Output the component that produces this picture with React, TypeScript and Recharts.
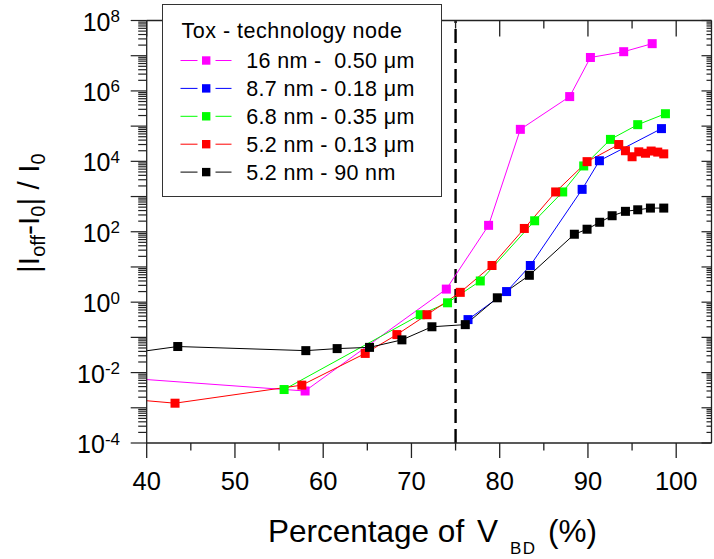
import React from 'react';
import { LineChart, Line, XAxis, YAxis, ReferenceLine, Legend, Customized } from 'recharts';

const FONT = '"Liberation Sans", Arial, Helvetica, sans-serif';
const AX = '#222';

// Percentage of V_BD (%) vs |Ioff - I0| / I0
const mag16 = [
  { x: 35, y: 0.0078 },
  { x: 57.95, y: 0.003 },
  { x: 73.95, y: 2.35 },
  { x: 78.74, y: 152 },
  { x: 82.34, y: 81000 },
  { x: 87.93, y: 690000 },
  { x: 90.28, y: 8.9e6 },
  { x: 94.05, y: 1.3e7 },
  { x: 97.28, y: 2.2e7 },
];
const blue87 = [
  { x: 76.41, y: 0.32 },
  { x: 80.78, y: 2.0 },
  { x: 83.47, y: 11 },
  { x: 89.34, y: 1600 },
  { x: 91.3, y: 10400 },
  { x: 98.33, y: 85000 },
];
const green68 = [
  { x: 55.57, y: 0.0033 },
  { x: 71.0, y: 0.44 },
  { x: 74.09, y: 0.96 },
  { x: 77.8, y: 4.0 },
  { x: 83.96, y: 205 },
  { x: 87.14, y: 1350 },
  { x: 89.52, y: 7400 },
  { x: 92.55, y: 42000 },
  { x: 95.64, y: 110000 },
  { x: 98.78, y: 225000 },
];
const red52 = [
  { x: 35, y: 0.00204 },
  { x: 43.21, y: 0.00135 },
  { x: 57.58, y: 0.0044 },
  { x: 64.76, y: 0.035 },
  { x: 68.35, y: 0.12 },
  { x: 71.76, y: 0.44 },
  { x: 75.53, y: 1.9 },
  { x: 79.13, y: 11 },
  { x: 82.79, y: 124 },
  { x: 86.34, y: 1350 },
  { x: 89.9, y: 9800 },
  { x: 93.49, y: 30000 },
  { x: 94.25, y: 20000 },
  { x: 95.0, y: 13500 },
  { x: 95.76, y: 18600 },
  { x: 96.52, y: 17000 },
  { x: 97.16, y: 19600 },
  { x: 97.91, y: 18300 },
  { x: 98.59, y: 16300 },
];
const black52 = [
  { x: 35, y: 0.028 },
  { x: 43.52, y: 0.055 },
  { x: 58.03, y: 0.042 },
  { x: 61.58, y: 0.048 },
  { x: 65.25, y: 0.052 },
  { x: 68.92, y: 0.085 },
  { x: 72.32, y: 0.2 },
  { x: 76.1, y: 0.23 },
  { x: 79.73, y: 1.33 },
  { x: 83.36, y: 5.8 },
  { x: 88.46, y: 85 },
  { x: 89.9, y: 118 },
  { x: 91.33, y: 186 },
  { x: 92.74, y: 285 },
  { x: 94.25, y: 380 },
  { x: 95.64, y: 420 },
  { x: 97.08, y: 470 },
  { x: 98.59, y: 470 },
];

const seriesNames = ['16 nm -  0.50 \u03bcm', '8.7 nm - 0.18 \u03bcm', '6.8 nm - 0.35 \u03bcm', '5.2 nm - 0.13 \u03bcm', '5.2 nm - 90 nm'];
const seriesColors = ['#FF00FF', '#0000FF', '#00FF00', '#FF0000', '#000000'];
const seriesData = [mag16, blue87, green68, red52, black52];
const legendTitle = 'Tox - technology node';

const xDomain = [40, 104];
const xTicks = [40, 45, 50, 55, 60, 65, 70, 75, 80, 85, 90, 95, 100];
const yDomain = [1e-4, 1e8];
const yTicks: number[] = [];
for (let e = -4; e <= 8; e++) {
  for (let k = 1; k <= 9; k++) {
    if (e === 8 && k > 1) break;
    yTicks.push(Number((k * Math.pow(10, e)).toPrecision(6)));
  }
}

function decade(v: number) {
  const e = Math.log10(v);
  const r = Math.round(e);
  return { major: Math.abs(e - r) < 1e-6, exp: r };
}

function BottomTick(props: any) {
  const { x, y, payload } = props;
  const v = payload.value;
  const major = v % 10 === 0;
  return (
    <g>
      <line x1={x} x2={x} y1={y} y2={y + (major ? 15 : 7.5)} stroke={AX} strokeWidth={1.3} />
      {major && (
        <text x={x} y={y + 47} textAnchor="middle" fontSize={25.5} fill="#000" fontFamily={FONT}>
          {v}
        </text>
      )}
    </g>
  );
}
function TopTick(props: any) {
  const { x, y, payload } = props;
  const major = payload.value % 10 === 0;
  return <line x1={x} x2={x} y1={y} y2={y + (major ? 16 : 8)} stroke={AX} strokeWidth={1.3} />;
}
function LeftTick(props: any) {
  const { x, y, payload } = props;
  const { major, exp } = decade(payload.value);
  return (
    <g>
      <line x1={x - (major ? 16 : 8.5)} x2={x} y1={y} y2={y} stroke={AX} strokeWidth={1.2} />
      {major && exp % 2 === 0 && (
        <text x={x - 26.7} y={y + 10} textAnchor="end" fontSize={25} fill="#000" fontFamily={FONT}>
          10
          <tspan dy={-8.5} fontSize={17}>
            {String(exp)}
          </tspan>
        </text>
      )}
    </g>
  );
}
function RightTick(props: any) {
  const { x, y, payload } = props;
  const { major } = decade(payload.value);
  return <line x1={x - (major ? 10 : 5)} x2={x} y1={y} y2={y} stroke={AX} strokeWidth={1.2} />;
}

const makeDot = (color: string) => (props: any) => {
  const { cx, cy, index } = props;
  if (cx == null || cy == null) return <g key={index} />;
  return <rect key={index} x={cx - 4.5} y={cy - 4.5} width={9} height={9} fill={color} />;
};

function LegendBox() {
  return (
    <div
      style={{
        width: 280,
        height: 193,
        boxSizing: 'border-box',
        border: '1.5px solid #333',
        background: '#fff',
      }}
    >
      <svg width={277} height={190} style={{ display: 'block', fontFamily: FONT }}>
        <text x={18.5} y={33} fontSize={21.5} letterSpacing={0.5} fill="#000">
          {legendTitle}
        </text>
        {seriesNames.map((n, i) => {
          const cy = 55.5 + i * 27.9;
          const c = seriesColors[i];
          return (
            <g key={n}>
              <line x1={17.5} x2={34.5} y1={cy} y2={cy} stroke={c} strokeWidth={1} />
              <line x1={52.5} x2={68.5} y1={cy} y2={cy} stroke={c} strokeWidth={1} />
              <rect x={39} y={cy - 4.2} width={8.4} height={8.4} fill={c} />
              <text
                x={83.2}
                y={cy + 7.5}
                fontSize={21.5}
                letterSpacing={0.35}
                fill="#000"
                style={{ whiteSpace: 'pre' }}
              >
                {n}
              </text>
            </g>
          );
        })}
      </svg>
    </div>
  );
}

function Titles() {
  return (
    <g fontFamily={FONT} fill="#000">
      <text y={541.7} fontSize={31.5}>
        <tspan x={268}>Percentage of </tspan>
        <tspan x={477}>V</tspan>
        <tspan x={510} dy={12.6} fontSize={17} letterSpacing={1.5}>
          BD
        </tspan>
        <tspan x={548} dy={-12.6}>
          (%)
        </tspan>
      </text>
      <text x={39} y={273} transform="rotate(-90 39 273)" fontSize={30} style={{ whiteSpace: 'pre' }}>
        |I
        <tspan dy={6} fontSize={20}>
          off
        </tspan>
        <tspan dy={-6}>-I</tspan>
        <tspan dy={6} fontSize={20}>
          0
        </tspan>
        <tspan dy={-6}>| / I</tspan>
        <tspan dy={6} fontSize={20}>
          0
        </tspan>
      </text>
    </g>
  );
}

export default function App() {
  return (
    <div style={{ position: 'absolute', left: 0, top: 0, width: 714, height: 559, background: '#fff' }}>
      <LineChart
        width={714}
        height={559}
        margin={{ top: 19.5, right: 1.5, bottom: 115, left: 145.7 }}
        style={{ fontFamily: FONT }}
      >
        <XAxis
          xAxisId="b"
          type="number"
          dataKey="x"
          domain={xDomain}
          allowDataOverflow
          ticks={xTicks}
          interval={0}
          height={1}
          tickSize={0}
          tickMargin={0}
          tickLine={false}
          axisLine={{ stroke: AX, strokeWidth: 1.3 }}
          tick={(p: any) => <BottomTick {...p} />}
        />
        <XAxis
          xAxisId="t"
          orientation="top"
          type="number"
          dataKey="x"
          domain={xDomain}
          allowDataOverflow
          ticks={xTicks}
          interval={0}
          height={1}
          tickSize={0}
          tickMargin={0}
          tickLine={false}
          axisLine={{ stroke: AX, strokeWidth: 1.3 }}
          tick={(p: any) => <TopTick {...p} />}
        />
        <YAxis
          yAxisId="l"
          type="number"
          scale="log"
          domain={yDomain}
          allowDataOverflow
          ticks={yTicks}
          interval={0}
          width={1}
          tickSize={0}
          tickMargin={0}
          tickLine={false}
          axisLine={{ stroke: AX, strokeWidth: 1.3 }}
          tick={(p: any) => <LeftTick {...p} />}
        />
        <YAxis
          yAxisId="r"
          orientation="right"
          type="number"
          scale="log"
          domain={yDomain}
          allowDataOverflow
          ticks={yTicks}
          interval={0}
          width={1}
          tickSize={0}
          tickMargin={0}
          tickLine={false}
          axisLine={{ stroke: AX, strokeWidth: 1.3 }}
          tick={(p: any) => <RightTick {...p} />}
        />
        <ReferenceLine xAxisId="b" yAxisId="l" x={75} stroke="#000" strokeWidth={2.4} strokeDasharray="14 6" />
        {seriesData.map((d, i) => (
          <Line
            key={seriesNames[i]}
            xAxisId="b"
            yAxisId="l"
            data={d}
            dataKey="y"
            name={seriesNames[i]}
            stroke={seriesColors[i]}
            strokeWidth={1}
            dot={makeDot(seriesColors[i])}
            activeDot={false}
            isAnimationActive={false}
          />
        ))}
        <Customized component={Titles} />
        <Legend
          layout="vertical"
          align="center"
          verticalAlign="middle"
          wrapperStyle={{ left: 162, top: 4, width: 280, height: 193, right: 'auto', bottom: 'auto' }}
          content={() => <LegendBox />}
        />
      </LineChart>
    </div>
  );
}
